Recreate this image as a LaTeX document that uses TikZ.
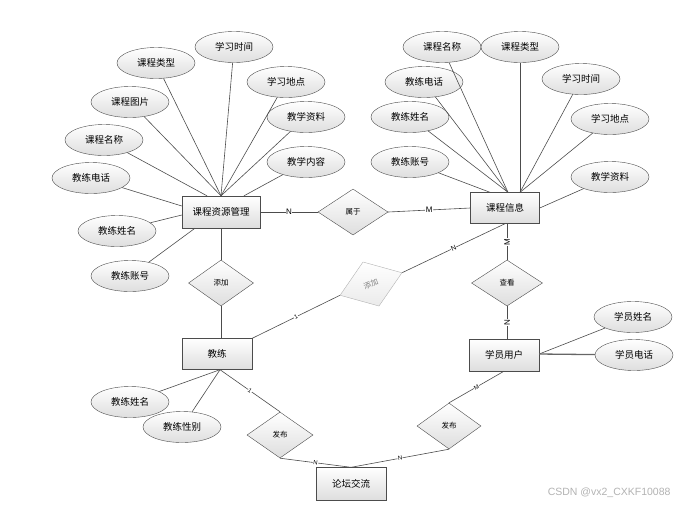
\documentclass[tikz,border=0pt]{standalone}
\usepackage{fontspec}
\setmainfont{Noto Sans CJK SC}
\newfontfamily\latinsf{Liberation Sans}
\usetikzlibrary{shapes.geometric}
\begin{document}
\begin{tikzpicture}[x=1pt,y=-1pt,
  shade/.style={top color=white, bottom color=black!13},
  ent/.style={rectangle, draw=black!70, shade, minimum width=70pt, minimum height=32pt, inner sep=0pt, font=\fontsize{9.5}{10}\selectfont},
  attr/.style={ellipse, draw=black!70, shade, minimum width=78pt, minimum height=31pt, inner sep=0pt, font=\fontsize{9.5}{10}\selectfont},
  rel/.style={diamond, draw=black!70, shade, minimum width=70pt, minimum height=46pt, inner sep=0pt, font=\fontsize{7.5}{8}\selectfont},
  ln/.style={draw=black!70, line width=0.6pt},
  lbl/.style={font=\latinsf\fontsize{8}{8}\selectfont, fill=white, inner sep=0.6pt},
  slbl/.style={font=\latinsf\fontsize{6}{6}\selectfont, fill=white, inner sep=0.4pt, sloped}
]
\useasboundingbox (0,0) rectangle (687,507);

% entities
\node[ent, minimum width=78pt] (crm) at (221,212) {课程资源管理};
\node[ent, minimum width=69pt, minimum height=31pt] (kcxx) at (505,208) {课程信息};
\node[ent, minimum height=31pt] (jl) at (217,354) {教练};
\node[ent] (xy) at (504,355) {学员用户};
\node[ent, minimum height=33pt] (lt) at (351,484) {论坛交流};

% relationships
\node[rel] (sy) at (353,212) {属于};
\node[rel, minimum width=65pt] (tj1) at (221,283) {添加};
\node[rel, minimum width=71pt] (ck) at (507,283) {查看};
\node[rel, rotate=20, minimum width=66pt, minimum height=47pt, draw=black!30, text=black!50, bottom color=black!8] (tj2) at (371,284) {添加};
\node[rel, minimum width=66pt] (fb1) at (280,435) {发布};
\node[rel, minimum width=64pt] (fb2) at (449,426) {发布};

% attributes of 课程资源管理
\node[attr] (a1) at (234,47) {学习时间};
\node[attr] (a2) at (156,63) {课程类型};
\node[attr] (a3) at (286,82) {学习地点};
\node[attr] (a4) at (130,102) {课程图片};
\node[attr] (a5) at (306,117) {教学资料};
\node[attr] (a6) at (104,140) {课程名称};
\node[attr] (a7) at (306,162) {教学内容};
\node[attr] (a8) at (91,178) {教练电话};
\node[attr] (a9) at (117,231) {教练姓名};
\node[attr] (a10) at (130,276) {教练账号};

% attributes of 课程信息
\node[attr] (b1) at (442,47) {课程名称};
\node[attr] (b2) at (520,47) {课程类型};
\node[attr] (b3) at (424,82) {教练电话};
\node[attr] (b4) at (581,79) {学习时间};
\node[attr] (b5) at (410,117) {教练姓名};
\node[attr] (b6) at (610,119) {学习地点};
\node[attr] (b7) at (410,162) {教练账号};
\node[attr] (b8) at (610,177) {教学资料};

% attributes of 教练
\node[attr] (c1) at (130,402) {教练姓名};
\node[attr] (c2) at (182,427) {教练性别};

% attributes of 学员用户
\node[attr] (d1) at (633,317) {学员姓名};
\node[attr] (d2) at (634,355) {学员电话};

% attribute lines
\foreach \n in {a1,a2,a3,a4,a5} \draw[ln] (\n) -- (crm.north);
\draw[ln] (a6) -- ([xshift=-14pt]crm.north);
\draw[ln] (a7) -- ([xshift=23pt]crm.north);
\draw[ln] (a8) -- ([yshift=6pt]crm.west);
\draw[ln] (a9) -- ([yshift=-3pt]crm.west);
\draw[ln] (a10) -- ([xshift=-26pt]crm.south);

\foreach \n in {b1,b3,b5} \draw[ln] (\n) -- ([xshift=3pt]kcxx.north);
\foreach \n in {b2,b4,b6} \draw[ln] (\n) -- ([xshift=15pt]kcxx.north);
\draw[ln] (b7) -- ([xshift=-15pt]kcxx.north);
\draw[ln] (b8) -- (kcxx.east);

\draw[ln] (c1) -- ([xshift=3pt]jl.south);
\draw[ln] (c2) -- ([xshift=3pt]jl.south);

\draw[ln] (d1) -- ([yshift=1pt]xy.east);
\draw[ln, line width=1.3pt, draw=black!60] (d2) -- ([yshift=1pt]xy.east);

% relationship lines
\draw[ln] (crm.east) -- node[lbl] {N} (sy.west);
\draw[ln] (sy.east) -- node[lbl] {M} (kcxx.west);
\draw[ln] (crm.south) -- (tj1.north);
\draw[ln] (tj1.south) -- (tj1.south |- jl.north);
\draw[ln] (jl.north east) -- node[slbl] {1} (tj2.west);
\draw[ln] (tj2.east) -- node[slbl, font=\latinsf\fontsize{7}{7}\selectfont] {N} (kcxx.south);
\draw[ln] (kcxx.south -| ck.north) -- node[lbl, rotate=90] {M} (ck.north);
\draw[ln] (ck.south) -- node[lbl, rotate=90] {N} (ck.south |- xy.north);
\draw[ln] (xy.south) -- node[slbl] {M} (fb2.north);
\draw[ln] (fb2.south) -- node[slbl] {N} (lt.north);
\draw[ln] ([xshift=3pt]jl.south) -- node[slbl] {1} (fb1.north);
\draw[ln] (fb1.south) -- node[slbl] {N} (lt.north);

% watermark
\node[font=\latinsf\fontsize{10.5}{10.5}\selectfont, text=black!30, anchor=east] (wm) at (674,493) {CSDN @vx2\_CXKF10088};
\end{tikzpicture}
\end{document}
